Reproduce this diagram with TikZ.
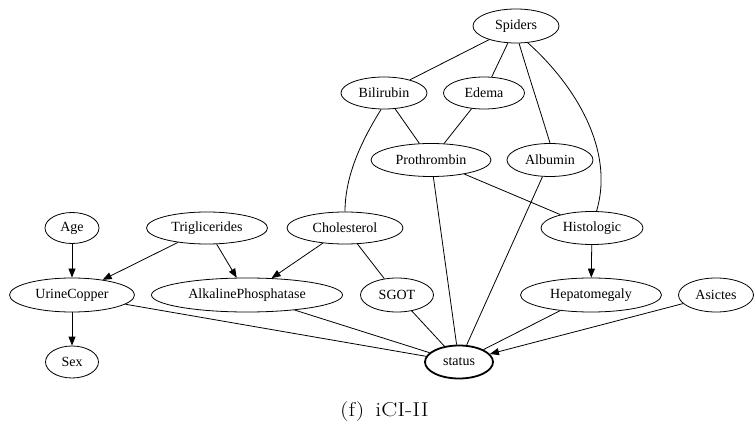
\documentclass[tikz,border=0pt]{standalone}
\usepackage{fontspec}
\setmainfont{Liberation Serif}
\newfontfamily\capfont{Latin Modern Roman}
\usetikzlibrary{shapes.geometric,arrows.meta}
\tikzset{
  gnode/.style={ellipse,draw,line width=0.8pt,inner sep=0pt,font=\fontsize{14}{16}\selectfont},
  gedge/.style={line width=0.8pt},
  garrow/.style={line width=0.8pt,-{Triangle[length=9pt,width=7pt]}},
}
\begin{document}
\begin{tikzpicture}[x=1pt,y=-1pt]
\useasboundingbox (0,0) rectangle (754,427);
% rank 1
\node[gnode,minimum width=86,minimum height=34] (spiders) at (516,26) {Spiders};
% rank 2
\node[gnode,minimum width=86,minimum height=32] (bili) at (384,93) {Bilirubin};
\node[gnode,minimum width=81,minimum height=32] (edema) at (484,93) {Edema};
% rank 3
\node[gnode,minimum width=120,minimum height=33] (pro) at (431,160) {Prothrombin};
\node[gnode,minimum width=86,minimum height=33] (alb) at (550,160) {Albumin};
% rank 4
\node[gnode,minimum width=54,minimum height=31] (age) at (72,228) {Age};
\node[gnode,minimum width=121,minimum height=32] (trig) at (207,228) {Triglicerides};
\node[gnode,minimum width=116,minimum height=32] (chol) at (345,228) {Cholesterol};
\node[gnode,minimum width=102,minimum height=33] (hist) at (592,228) {Histologic};
% rank 5
\node[gnode,minimum width=125,minimum height=34] (urine) at (72,295) {UrineCopper};
\node[gnode,minimum width=191,minimum height=34] (alk) at (247,295) {AlkalinePhosphatase};
\node[gnode,minimum width=73,minimum height=34] (sgot) at (397,295) {SGOT};
\node[gnode,minimum width=141,minimum height=34] (hep) at (591,295) {Hepatomegaly};
\node[gnode,minimum width=75,minimum height=34] (asic) at (716,295) {Asictes};
% rank 6
\node[gnode,minimum width=53,minimum height=32] (sex) at (72,362) {Sex};
\node[gnode,line width=1.8pt,minimum width=68,minimum height=33] (status) at (459,362) {status};
% caption
\node[inner sep=0pt] (cap) at (384.5,412) {\scalebox{1.2}[1]{\capfont\fontsize{20}{24}\selectfont (f)\hspace{9pt}iCI-II}};
% undirected edges
\draw[gedge] (spiders) -- (bili);
\draw[gedge] (spiders) -- (edema);
\draw[gedge] (spiders.-80) .. controls (530,80) and (540,110) .. (alb.north);
\draw[gedge] (spiders.-55) .. controls (575,85) and (615,150) .. (hist.75);
\draw[gedge] (bili) -- (pro);
\draw[gedge] (edema) -- (pro);
\draw[gedge] (bili.-100) .. controls (362,140) and (345,175) .. (chol.north);
\draw[gedge] (pro) -- (hist);
\draw[gedge] (pro) -- (status);
\draw[gedge] (alb) -- (status);
\draw[gedge] (chol) -- (sgot);
\draw[gedge] (sgot) -- (status);
\draw[gedge] (urine) -- (status);
\draw[gedge] (alk) -- (status);
\draw[gedge] (hep) -- (status);
% directed edges
\draw[garrow] (age) -- (urine);
\draw[garrow] (trig) -- (urine);
\draw[garrow] (trig) -- (alk);
\draw[garrow] (chol) -- (alk);
\draw[garrow] (hist) -- (hep);
\draw[garrow] (urine) -- (sex);
\draw[garrow] (asic) -- (status);
\end{tikzpicture}
\end{document}
